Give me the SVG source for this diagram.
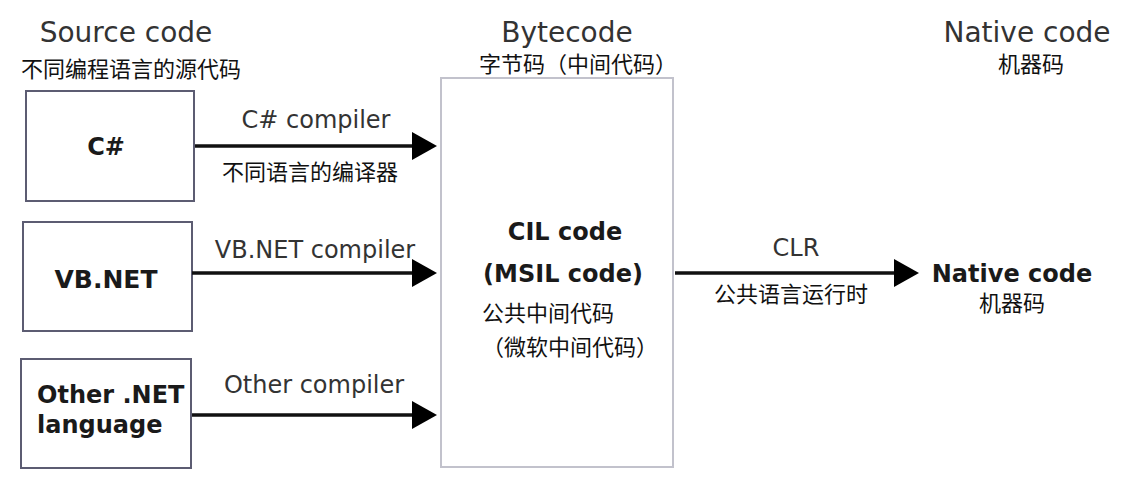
<svg xmlns="http://www.w3.org/2000/svg" width="1148" height="486" viewBox="0 0 1148 486">
  <style>
    .hdr { font-family: "DejaVu Sans", sans-serif; font-size: 28px; fill: #333; }
    .lbl { font-family: "DejaVu Sans", sans-serif; font-size: 24px; fill: #333; }
    .bold { font-family: "DejaVu Sans", sans-serif; font-size: 24px; font-weight: bold; fill: #1a1a1a; }
    .cn { font-family: "Noto Sans CJK SC", sans-serif; font-size: 22px; fill: #111; }
    .box { fill: #fff; stroke: #5c5c72; stroke-width: 2; }
    .big { fill: #fff; stroke: #c2c2cc; stroke-width: 2; }
    .conn { stroke: #111; stroke-width: 3.5; fill: none; marker-end: url(#ah); }
  </style>
  <defs>
    <marker id="ah" markerUnits="userSpaceOnUse" markerWidth="26" markerHeight="30" refX="8" refY="14" orient="auto">
      <path d="M0,0 L25,14 L0,28 Z" fill="#000"/>
    </marker>
  </defs>
  <rect width="1148" height="486" fill="#fff"/>

  <g id="headers">
    <text class="hdr" x="126" y="42" text-anchor="middle">Source code</text>
    <text class="cn" x="131" y="77" text-anchor="middle">不同编程语言的源代码</text>
    <text class="hdr" x="567" y="42" text-anchor="middle">Bytecode</text>
    <text class="cn" x="479" y="72">字节码（中间代码）</text>
    <text class="hdr" x="1027" y="42" text-anchor="middle">Native code</text>
    <text class="cn" x="1031" y="72" text-anchor="middle">机器码</text>
  </g>

  <g id="node-csharp">
    <rect class="box" x="26" y="91" width="168" height="110"/>
    <text class="bold" x="106" y="155" text-anchor="middle">C#</text>
  </g>
  <g id="node-vbnet">
    <rect class="box" x="23" y="222" width="169" height="109"/>
    <text class="bold" x="106" y="288" text-anchor="middle" style="font-size:25px">VB.NET</text>
  </g>
  <g id="node-other">
    <rect class="box" x="21" y="359" width="170" height="109"/>
    <text class="bold" x="37" y="403">Other .NET</text>
    <text class="bold" x="37" y="433">language</text>
  </g>
  <g id="node-cil">
    <rect class="big" x="441" y="78" width="232" height="389"/>
    <text class="bold" x="565" y="240" text-anchor="middle">CIL code</text>
    <text class="bold" x="563" y="282" text-anchor="middle">(MSIL code)</text>
    <text class="cn" x="482" y="321">公共中间代码</text>
    <text class="cn" x="482" y="355">（微软中间代码）</text>
  </g>
  <g id="node-native">
    <text class="bold" x="1012" y="282" text-anchor="middle">Native code</text>
    <text class="cn" x="1012" y="311" text-anchor="middle">机器码</text>
  </g>

  <g id="connectors">
    <line class="conn" x1="195" y1="146" x2="420" y2="146"/>
    <line class="conn" x1="192" y1="273" x2="420" y2="273"/>
    <line class="conn" x1="192" y1="415" x2="420" y2="415"/>
    <line class="conn" x1="675" y1="273" x2="902" y2="273"/>
    <text class="lbl" x="316" y="128" text-anchor="middle">C# compiler</text>
    <text class="cn" x="310" y="180" text-anchor="middle">不同语言的编译器</text>
    <text class="lbl" x="315" y="258" text-anchor="middle">VB.NET compiler</text>
    <text class="lbl" x="314" y="393" text-anchor="middle">Other compiler</text>
    <text class="lbl" x="796" y="256" text-anchor="middle">CLR</text>
    <text class="cn" x="791" y="302" text-anchor="middle">公共语言运行时</text>
  </g>
</svg>
